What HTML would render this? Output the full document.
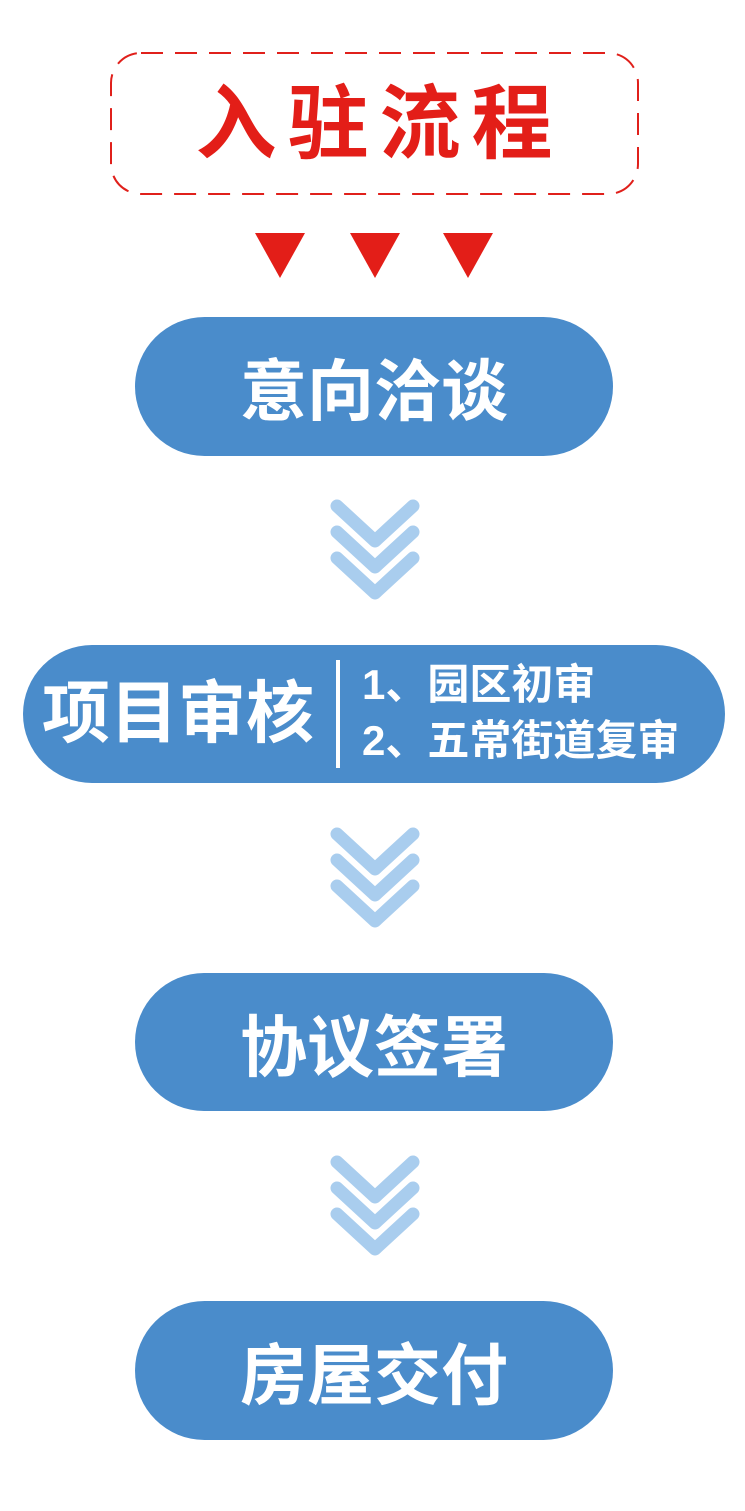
<!DOCTYPE html>
<html><head><meta charset="utf-8"><style>
body{margin:0;background:#fff;width:745px;height:1511px;position:relative;overflow:hidden;font-family:"Liberation Sans","Noto Sans CJK SC",sans-serif;}
.a{position:absolute}
.pill{position:absolute;background:#4a8ccb;border-radius:70px;color:#fff;font-weight:bold;display:flex;align-items:center;justify-content:center;}
</style></head><body>
<svg class="a" style="left:0;top:0" width="745" height="1511">
<rect x="111" y="53" width="527" height="141" rx="30" fill="none" stroke="#e0201b" stroke-width="2" stroke-dasharray="22,12"/>
<polygon points="255,233 305,233 280,278" fill="#e31e18"/>
<polygon points="350,233 400,233 375,278" fill="#e31e18"/>
<polygon points="443,233 493,233 468,278" fill="#e31e18"/>
<g fill="none" stroke="#a9cdee" stroke-width="13" stroke-linecap="round" stroke-linejoin="round">
<path d="M337,506 L375,541 L413,506 M337,532 L375,567 L413,532 M337,558 L375,593 L413,558"/>
<path d="M337,834 L375,869 L413,834 M337,860 L375,895 L413,860 M337,886 L375,921 L413,886"/>
<path d="M337,1162 L375,1197 L413,1162 M337,1188 L375,1223 L413,1188 M337,1214 L375,1249 L413,1214"/>
</g>
</svg>
<div class="a" style="left:110px;top:80px;width:528px;text-align:center;color:#e31e18;font-weight:bold;font-size:81px;line-height:90px;letter-spacing:11px;text-indent:11px">入驻流程</div>
<div class="pill" style="left:135px;top:317px;width:478px;height:139px;font-size:67px">意向洽谈</div>
<div class="pill" style="left:23px;top:645px;width:702px;height:138px;justify-content:flex-start">
<div class="a" style="left:19px;top:29px;font-size:68px;line-height:80px;white-space:nowrap">项目审核</div>
<div class="a" style="left:313px;top:15px;width:4px;height:108px;background:#fff"></div>
<div class="a" style="left:339px;top:15px;font-size:42px;line-height:50px;white-space:nowrap">1、园区初审</div>
<div class="a" style="left:339px;top:71px;font-size:42px;line-height:50px;white-space:nowrap">2、五常街道复审</div>
</div>
<div class="pill" style="left:135px;top:973px;width:478px;height:138px;font-size:67px">协议签署</div>
<div class="pill" style="left:135px;top:1301px;width:478px;height:139px;font-size:67px">房屋交付</div>
</body></html>
